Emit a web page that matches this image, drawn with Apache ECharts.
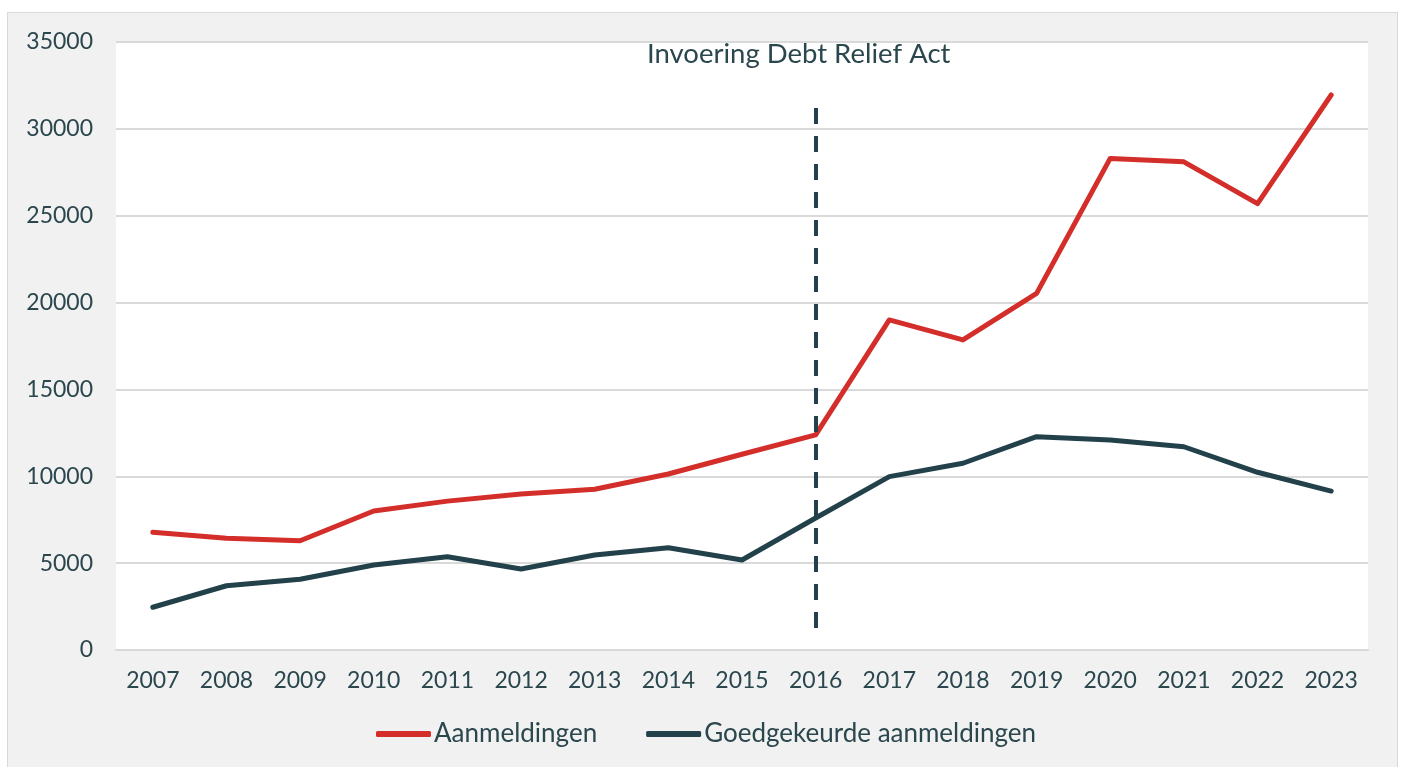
<!DOCTYPE html>
<html lang="nl">
<head>
    <meta charset="UTF-8">
    <title>Aanmeldingen Debt Relief</title>
    <script src="https://cdn.jsdelivr.net/npm/echarts@6/dist/echarts.min.js"></script>
    <style>
        html, body { margin: 0; padding: 0; background: #ffffff; }
        #panel {
            position: absolute; left: 7px; top: 12px;
            width: 1389px; height: 760px;
            background: #f1f1f1; border: 1px solid #d9d9d9;
        }
        #main { position: absolute; left: 0; top: 0; width: 1402px; height: 767px; }
    </style>
</head>
<body>
<div id="panel"></div>
<div id="main"></div>
<script>
// data
var years = ['2007', '2008', '2009', '2010', '2011', '2012', '2013', '2014', '2015',
             '2016', '2017', '2018', '2019', '2020', '2021', '2022', '2023'];
var aanmeldingen = [6780, 6430, 6290, 8000, 8570, 8980, 9250, 10130, 11270,
                    12380, 19000, 17850, 20530, 28300, 28100, 25700, 31950];
var goedgekeurd = [2460, 3700, 4070, 4890, 5370, 4660, 5470, 5890, 5180,
                   7600, 9980, 10750, 12280, 12090, 11700, 10230, 9150];
var markYear = '2016';
var markRange = [31200, 1200];  // top / bottom of the dashed line
var markText = 'Invoering Debt Relief Act';

var textColor = '#2b474e';
var red = '#d42e2b';
var dark = '#22414a';

var chart = echarts.init(document.getElementById('main'));
chart.setOption({
    backgroundColor: 'transparent',
    animation: false,
    textStyle: { fontFamily: 'Lato, "Noto Sans", sans-serif' },
    title: {
        text: markText,
        left: 647,
        top: 40,
        padding: 0,
        textStyle: { color: textColor, fontSize: 27.5, fontWeight: 'normal', fontFamily: 'Lato' }
    },
    grid: {
        left: 116, right: 34, top: 42, bottom: 117,
        show: true, backgroundColor: '#ffffff', borderWidth: 0
    },
    legend: {
        top: 721,
        left: 376,
        padding: 0,
        itemWidth: 55,
        itemHeight: 6,
        itemGap: 49,
        icon: 'roundRect',
        textStyle: { color: textColor, fontSize: 26, padding: [0, 0, 0, -2] },
        data: ['Aanmeldingen', 'Goedgekeurde aanmeldingen']
    },
    xAxis: {
        type: 'category',
        data: years,
        boundaryGap: true,
        axisLine: { show: true, lineStyle: { color: '#d9d9d9', width: 2 } },
        axisTick: { show: false },
        axisLabel: { color: textColor, fontSize: 23, margin: 19 }
    },
    yAxis: {
        type: 'value',
        min: 0,
        max: 35000,
        interval: 5000,
        axisLine: { show: false },
        axisTick: { show: false },
        axisLabel: {
            color: textColor, fontSize: 23, margin: 23,
            formatter: function (v) { return String(v); }
        },
        splitLine: { lineStyle: { color: '#d9d9d9', width: 2 } }
    },
    series: [
        {
            name: 'Aanmeldingen',
            type: 'line',
            data: aanmeldingen,
            symbol: 'none',
            color: red,
            lineStyle: { color: red, width: 5, cap: 'round', join: 'round' },
            markLine: {
                silent: true,
                symbol: 'none',
                label: { show: false },
                lineStyle: { color: dark, width: 4, type: [16, 12] },
                data: [[
                    { coord: [markYear, markRange[0]] },
                    { coord: [markYear, markRange[1]] }
                ]]
            }
        },
        {
            name: 'Goedgekeurde aanmeldingen',
            type: 'line',
            data: goedgekeurd,
            symbol: 'none',
            color: dark,
            lineStyle: { color: dark, width: 5, cap: 'round', join: 'round' }
        }
    ]
});
</script>
</body>
</html>
